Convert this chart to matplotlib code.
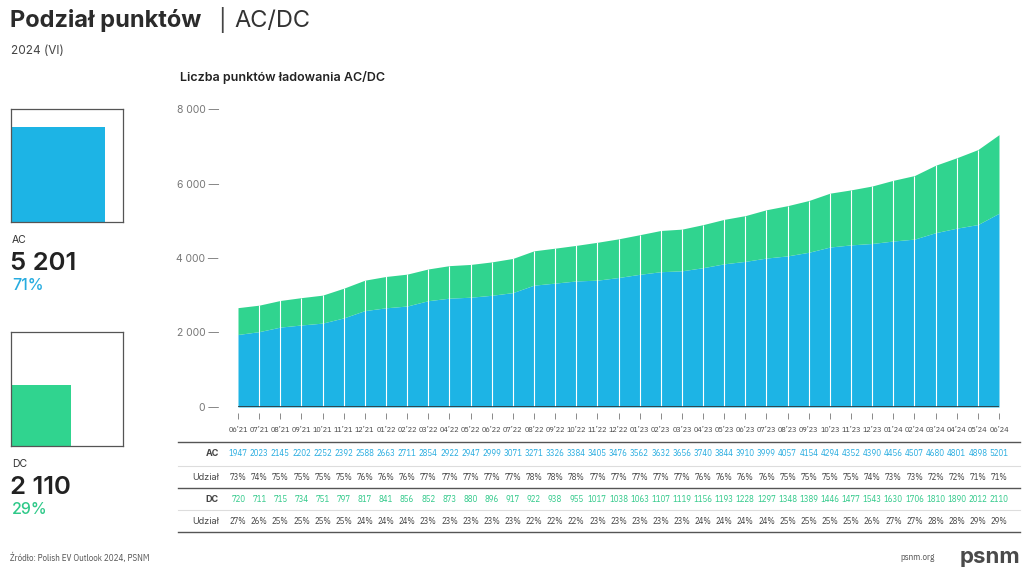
import matplotlib
matplotlib.use("Agg")
import matplotlib.pyplot as plt
from matplotlib.lines import Line2D
from matplotlib.patches import Rectangle
from matplotlib import transforms

months = ["06'21", "07'21", "08'21", "09'21", "10'21", "11'21", "12'21",
          "01'22", "02'22", "03'22", "04'22", "05'22", "06'22", "07'22", "08'22", "09'22", "10'22", "11'22", "12'22",
          "01'23", "02'23", "03'23", "04'23", "05'23", "06'23", "07'23", "08'23", "09'23", "10'23", "11'23", "12'23",
          "01'24", "02'24", "03'24", "04'24", "05'24", "06'24"]
months = [m.replace("'", "\u2019") for m in months]

ac = [1947, 2023, 2145, 2202, 2252, 2392, 2588, 2663, 2711, 2854, 2922, 2947, 2999, 3071, 3271, 3326,
      3384, 3405, 3476, 3562, 3632, 3656, 3740, 3844, 3910, 3999, 4057, 4154, 4294, 4352, 4390, 4456,
      4507, 4680, 4801, 4898, 5201]
dc = [720, 711, 715, 734, 751, 797, 817, 841, 856, 852, 873, 880, 896, 917, 922, 938, 955, 1017, 1038,
      1063, 1107, 1119, 1156, 1193, 1228, 1297, 1348, 1389, 1446, 1477, 1543, 1630, 1706, 1810, 1890,
      2012, 2110]
ac_share = [73, 74, 75, 75, 75, 75, 76, 76, 76, 77, 77, 77, 77, 77, 78, 78, 78, 77, 77, 77, 77, 77, 76,
            76, 76, 76, 75, 75, 75, 75, 74, 73, 73, 72, 72, 71, 71]
dc_share = [27, 26, 25, 25, 25, 25, 24, 24, 24, 23, 23, 23, 23, 23, 22, 22, 22, 23, 23, 23, 23, 23, 24,
            24, 24, 24, 25, 25, 25, 25, 26, 27, 27, 28, 28, 29, 29]
yticks = [0, 2000, 4000, 6000, 8000]

BLUE = "#1db4e5"
GREEN = "#30d48f"
BLUE_TXT = "#27ace0"
GREEN_TXT = "#2fc989"
GRAY = "#777777"
DARK = "#222222"
FONT = ["Inter", "DejaVu Sans"]
NARROW = ["IBM Plex Sans Condensed", "Liberation Sans", "DejaVu Sans"]

W, H = 1024, 571
fig = plt.figure(figsize=(W / 100, H / 100), dpi=100)
fig.patch.set_facecolor("white")


def fx(x):
    return x / W


def fy(y):
    return 1 - y / H


# main area chart
left, right, top, bottom = 238, 999, 109, 407
ax = fig.add_axes([fx(left), fy(bottom), fx(right - left), (bottom - top) / H])
x = list(range(len(months)))
total = [a + d for a, d in zip(ac, dc)]
ax.fill_between(x, 0, ac, color=BLUE, lw=0)
ax.fill_between(x, ac, total, color=GREEN, lw=0)
ax.vlines(x[1:-1], 0, total[1:-1], color="white", lw=0.8)
ax.axhline(0, color="#333333", lw=1.2)
ax.set_xlim(0, len(months) - 1)
ax.set_ylim(0, 8000)
for s in ["left", "right", "top"]:
    ax.spines[s].set_visible(False)
ax.spines["bottom"].set_position(("outward", 4))
ax.spines["bottom"].set_visible(False)
ax.set_yticks(yticks)
ax.set_yticklabels([f"{v:,}".replace(",", " ") + " \u2014" if v else "0 \u2014" for v in yticks],
                   fontsize=7.5, color=GRAY, family=FONT)
ax.tick_params(axis="y", length=0, pad=14)
ax.set_xticks(x)
ax.set_xticklabels(months, fontsize=5.9, color="#444444", family=NARROW)
ax.tick_params(axis="x", length=4, width=0.6, color="#777777", pad=6)

# table under chart
tr = transforms.blended_transform_factory(ax.transData, fig.transFigure)
rows = [(454, "AC", [str(v) for v in ac], BLUE_TXT),
        (477, "Udzia\u0142", [f"{v}%" for v in ac_share], "#444444"),
        (500, "DC", [str(v) for v in dc], GREEN_TXT),
        (521, "Udzia\u0142", [f"{v}%" for v in dc_share], "#444444")]
for y, label, vals, col in rows:
    fig.text(fx(219), fy(y), label, ha="right", va="center", fontsize=6.5, color="#444444",
             family=FONT, weight="bold" if label in ("AC", "DC") else "normal")
    for i, v in enumerate(vals):
        ax.text(i, fy(y), v, transform=tr, ha="center", va="center", fontsize=6.3,
                color=col, family=NARROW)
for y, c, lw in [(442, "#555555", 1.0), (466, "#dddddd", 0.8), (488, "#555555", 1.0),
                 (510, "#dddddd", 0.8), (532, "#555555", 1.0)]:
    fig.add_artist(Line2D([fx(178), fx(1020)], [fy(y), fy(y)], color=c, lw=lw))

# left panel boxes
for (y0, y1, share, col, name, num, pct, ty) in [
        (109, 222, ac_share[-1], BLUE, "AC", ac[-1], f"{ac_share[-1]}%", 240),
        (332, 446, dc_share[-1], GREEN, "DC", dc[-1], f"{dc_share[-1]}%", 464)]:
    bax = fig.add_axes([fx(11), fy(y1), fx(112), (y1 - y0) / H])
    bax.set_xlim(0, 1)
    bax.set_ylim(0, 1)
    side = (share / 100) ** 0.5
    bax.add_patch(Rectangle((0, 0), side, side, color=col, lw=0))
    bax.set_xticks([])
    bax.set_yticks([])
    for s in bax.spines.values():
        s.set_color("#555555")
        s.set_linewidth(0.9)
    fig.text(fx(12), fy(ty), name, fontsize=7.5, color="#333333", family=FONT, va="center")
    fig.text(fx(10), fy(ty + 23), f"{num:,}".replace(",", " "), fontsize=18.5, color=DARK,
             family=FONT, weight="semibold", va="center")
    fig.text(fx(12), fy(ty + 45), pct, fontsize=11.5, color=BLUE_TXT if name == "AC" else GREEN_TXT,
             family=FONT, weight="medium", va="center")

# headings
fig.text(fx(10), fy(21), "Podzia\u0142 punkt\u00f3w", fontsize=17, weight="bold", color="#2b2b2b",
         family=FONT, va="center")
fig.text(fx(218), fy(20), "|", fontsize=16, color="#444444", family=FONT, va="center")
fig.text(fx(234), fy(21), "AC/DC", fontsize=17, color="#333333", family=FONT, va="center")
fig.text(fx(11), fy(51), "2024 (VI)", fontsize=8.5, color="#444444", family=FONT, va="center")
fig.text(fx(180), fy(78), "Liczba punkt\u00f3w \u0142adowania AC/DC", fontsize=9, weight="semibold",
         color="#222222", family=FONT, va="center")

# footer
fig.text(fx(10), fy(558), "\u0179r\u00f3d\u0142o: Polish EV Outlook 2024, PSNM", fontsize=6.5,
         color="#555555", family=NARROW, va="center")
fig.text(fx(935), fy(558), "psnm.org", fontsize=6.5, color="#555555", family=NARROW, va="center", ha="right")
fig.text(fx(1020), fy(557), "psnm", fontsize=16, weight="bold", color="#4a4a4a", family=FONT,
         va="center", ha="right")

fig.savefig("out.png", dpi=100, facecolor="white")
